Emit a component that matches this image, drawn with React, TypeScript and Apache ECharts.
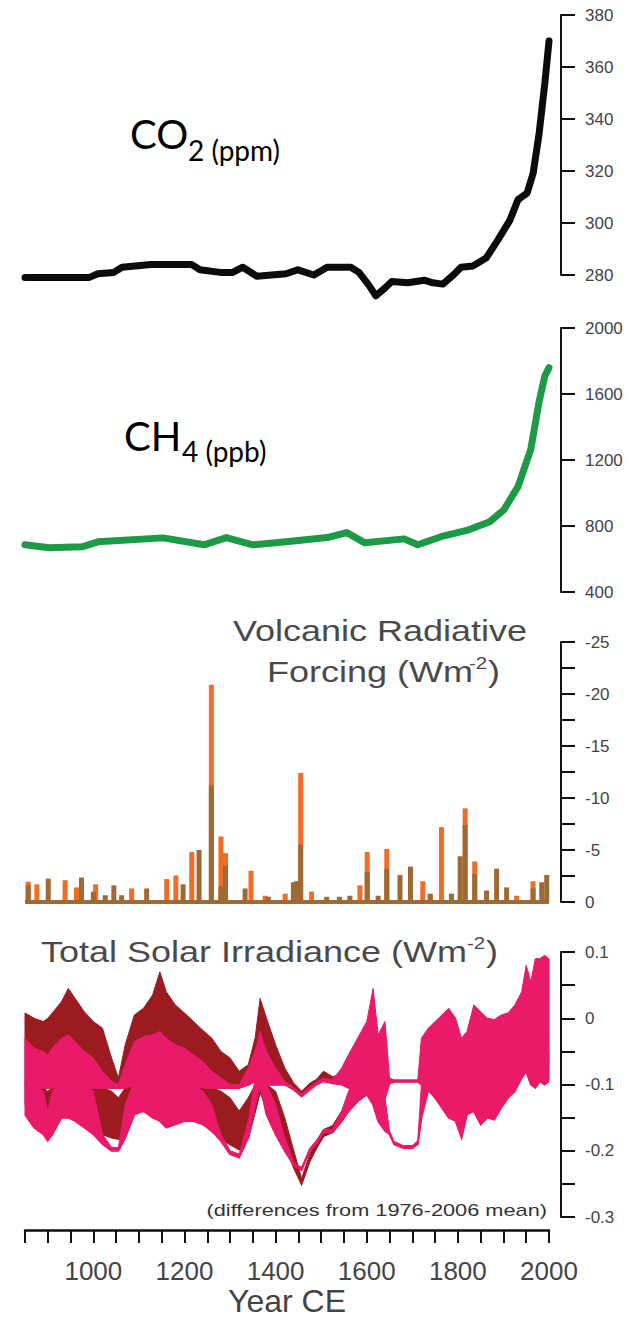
import React, { useEffect, useRef } from "react";
import * as echarts from "echarts";

// ---------- DATA ----------
const CO2_YEARS = [850, 990, 1010, 1045, 1063, 1126, 1216, 1234, 1278, 1306, 1328, 1359, 1423, 1449, 1484, 1513, 1565, 1583, 1605, 1620, 1640, 1655, 1690, 1726, 1745, 1767, 1790, 1807, 1833, 1862, 1888, 1914, 1932, 1952, 1965, 1978, 1991, 2000];
const CO2_PPM = [279, 279, 280.5, 281, 283, 284, 284, 282, 281, 281, 283, 279.5, 280.5, 282, 280, 283, 283, 281, 276, 272, 275, 277.5, 277, 278, 277, 276.5, 280, 283, 283.5, 286.5, 293.5, 301, 309, 311.5, 319, 334, 354, 370];

const CH4_YEARS = [850, 903, 975, 1010, 1153, 1243, 1292, 1350, 1423, 1513, 1556, 1596, 1682, 1712, 1763, 1824, 1870, 1901, 1932, 1960, 1978, 1991, 2000];
const CH4_PPB = [686, 668, 674, 704, 728, 686, 730, 686, 704, 730, 760, 698, 722, 686, 735, 777, 826, 898, 1039, 1264, 1550, 1710, 1760];

const VOLC_ORANGE_YEARS = [857, 876, 938, 963, 1005, 1084, 1161, 1181, 1216, 1259, 1280, 1290, 1346, 1377, 1421, 1455, 1479, 1585, 1601, 1644, 1723, 1740, 1764, 1816, 1837, 1929, 1965];
const VOLC_ORANGE_VALUES = [-1.95, -1.7, -2.1, -1.4, -1.7, -1.3, -2.2, -2.55, -4.8, -20.9, -6.3, -4.7, -3.0, -0.6, -0.8, -12.4, -1.0, -1.6, -4.8, -5.1, -2.0, -0.7, -7.2, -9.0, -3.9, -0.6, -2.0];
const VOLC_BROWN_YEARS = [857, 901, 974, 1000, 1026, 1045, 1062, 1117, 1197, 1232, 1259, 1280, 1290, 1333, 1384, 1439, 1446, 1455, 1512, 1540, 1563, 1601, 1625, 1644, 1673, 1696, 1739, 1786, 1805, 1816, 1837, 1863, 1885, 1907, 1965, 1984, 1995];
const VOLC_BROWN_VALUES = [-1.6, -2.25, -2.35, -1.0, -0.65, -1.6, -0.65, -1.3, -1.7, -5.0, -11.2, -1.5, -3.5, -1.3, -0.5, -1.9, -2.0, -5.5, -0.5, -0.5, -0.6, -2.9, -0.6, -3.2, -2.6, -3.4, -0.8, -0.8, -4.4, -7.4, -2.7, -1.1, -3.2, -1.4, -1.3, -1.9, -2.6];

// Solar irradiance: dark red reconstruction (two scalings A and B), lower/upper envelopes
const TSI_DR_YEARS = [850, 870, 890, 900, 910, 930, 945, 960, 980, 1000, 1020, 1040, 1055, 1070, 1090, 1110, 1130, 1146, 1160, 1180, 1200, 1220, 1240, 1260, 1280, 1300, 1320, 1340, 1355, 1366, 1380, 1400, 1420, 1440, 1457, 1475, 1490, 1505, 1525, 1545, 1560, 1580, 1600];
const TSI_DR_A_LOW = [-0.10, -0.105, -0.105, -0.105, -0.105, -0.10, -0.10, -0.10, -0.105, -0.105, -0.105, -0.105, -0.105, -0.105, -0.10, -0.10, -0.10, -0.10, -0.10, -0.10, -0.10, -0.10, -0.105, -0.105, -0.105, -0.105, -0.105, -0.10, -0.095, -0.09, -0.10, -0.10, -0.10, -0.105, -0.116, -0.105, -0.097, -0.09, -0.095, -0.098, -0.10, -0.105, -0.11];
const TSI_DR_A_HIGH = [0.008, 0.0, -0.005, 0.0, 0.008, 0.025, 0.045, 0.03, 0.01, -0.005, -0.015, -0.06, -0.09, -0.04, 0.005, 0.015, 0.035, 0.07, 0.04, 0.02, 0.008, -0.005, -0.018, -0.03, -0.05, -0.06, -0.08, -0.07, -0.03, 0.03, 0.0, -0.04, -0.075, -0.098, -0.11, -0.098, -0.092, -0.08, -0.088, -0.085, -0.07, -0.05, -0.02];
const TSI_DR_B_LOW = [-0.13, -0.14, -0.15, -0.145, -0.14, -0.13, -0.13, -0.14, -0.155, -0.165, -0.175, -0.18, -0.182, -0.17, -0.14, -0.13, -0.14, -0.145, -0.15, -0.15, -0.15, -0.152, -0.158, -0.17, -0.182, -0.19, -0.198, -0.18, -0.14, -0.11, -0.135, -0.16, -0.19, -0.225, -0.25, -0.215, -0.195, -0.178, -0.172, -0.155, -0.14, -0.125, -0.115];
const TSI_DR_B_HIGH = [-0.1, -0.1, -0.105, -0.11, -0.105, -0.1, -0.1, -0.1, -0.1, -0.105, -0.105, -0.11, -0.12, -0.105, -0.1, -0.1, -0.1, -0.1, -0.1, -0.1, -0.1, -0.105, -0.105, -0.105, -0.11, -0.12, -0.14, -0.12, -0.1, -0.085, -0.1, -0.11, -0.15, -0.2, -0.242, -0.205, -0.185, -0.168, -0.162, -0.14, -0.12, -0.1, -0.09];

// Pink reconstruction (two scalings A and B)
const TSI_P_YEARS = [850, 870, 890, 900, 910, 930, 945, 960, 980, 1000, 1020, 1040, 1055, 1070, 1090, 1110, 1130, 1146, 1160, 1180, 1200, 1220, 1240, 1260, 1280, 1300, 1320, 1340, 1355, 1366, 1380, 1400, 1420, 1440, 1457, 1475, 1490, 1505, 1525, 1545, 1560, 1580, 1600, 1614, 1625, 1640, 1650, 1660, 1680, 1700, 1712, 1720, 1735, 1750, 1765, 1780, 1795, 1808, 1820, 1835, 1850, 1865, 1880, 1895, 1910, 1925, 1940, 1950, 1960, 1970, 1980, 1990, 2000];
const TSI_P_A_LOW = [-0.10, -0.105, -0.105, -0.105, -0.105, -0.10, -0.10, -0.10, -0.105, -0.105, -0.105, -0.105, -0.105, -0.105, -0.10, -0.10, -0.10, -0.10, -0.10, -0.10, -0.10, -0.10, -0.105, -0.105, -0.105, -0.105, -0.105, -0.10, -0.095, -0.09, -0.10, -0.10, -0.10, -0.108, -0.118, -0.108, -0.10, -0.095, -0.098, -0.10, -0.105, -0.11, -0.11, -0.12, -0.14, -0.12, -0.098, -0.096, -0.096, -0.096, -0.096, -0.1, -0.1, -0.11, -0.12, -0.13, -0.14, -0.15, -0.13, -0.12, -0.13, -0.12, -0.12, -0.11, -0.1, -0.09, -0.08, -0.07, -0.08, -0.08, -0.07, -0.07, -0.07];
const TSI_P_A_HIGH = [-0.03, -0.045, -0.05, -0.055, -0.045, -0.03, -0.025, -0.035, -0.05, -0.06, -0.08, -0.095, -0.1, -0.07, -0.035, -0.028, -0.025, -0.02, -0.03, -0.04, -0.045, -0.055, -0.065, -0.08, -0.09, -0.1, -0.1, -0.075, -0.05, -0.02, -0.05, -0.075, -0.095, -0.105, -0.114, -0.104, -0.096, -0.09, -0.093, -0.075, -0.055, -0.03, -0.005, 0.045, -0.025, -0.005, -0.09, -0.093, -0.093, -0.093, -0.093, -0.03, -0.015, -0.005, 0.005, 0.015, 0.0, -0.03, -0.02, 0.02, 0.01, 0.0, -0.002, 0.005, 0.008, 0.02, 0.04, 0.08, 0.055, 0.09, 0.09, 0.095, 0.09];
const TSI_P_B_LOW = [-0.145, -0.165, -0.175, -0.185, -0.175, -0.15, -0.15, -0.155, -0.165, -0.175, -0.19, -0.2, -0.2, -0.18, -0.145, -0.14, -0.15, -0.155, -0.165, -0.16, -0.155, -0.155, -0.16, -0.17, -0.185, -0.205, -0.21, -0.18, -0.13, -0.1, -0.145, -0.175, -0.2, -0.222, -0.229, -0.2, -0.188, -0.172, -0.172, -0.155, -0.14, -0.125, -0.115, -0.13, -0.155, -0.17, -0.175, -0.19, -0.196, -0.196, -0.19, -0.15, -0.108, -0.12, -0.135, -0.15, -0.155, -0.18, -0.145, -0.14, -0.16, -0.15, -0.153, -0.135, -0.12, -0.11, -0.09, -0.08, -0.1, -0.105, -0.095, -0.1, -0.095];
const TSI_P_B_HIGH = [-0.095, -0.1, -0.11, -0.14, -0.11, -0.095, -0.095, -0.095, -0.1, -0.11, -0.175, -0.195, -0.195, -0.13, -0.095, -0.095, -0.095, -0.095, -0.095, -0.095, -0.1, -0.1, -0.11, -0.13, -0.175, -0.2, -0.205, -0.155, -0.09, -0.07, -0.1, -0.13, -0.18, -0.218, -0.225, -0.196, -0.184, -0.168, -0.168, -0.14, -0.11, -0.09, -0.08, -0.08, -0.1, -0.12, -0.17, -0.186, -0.192, -0.192, -0.185, -0.1, -0.08, -0.08, -0.09, -0.09, -0.1, -0.12, -0.1, -0.09, -0.1, -0.1, -0.1, -0.09, -0.08, -0.07, -0.06, -0.05, -0.06, -0.06, -0.05, -0.05, -0.05];

const YEAR_MIN = 850;
const YEAR_MAX = 2000;

// ---------- STYLE ----------
const FONT_AXIS = "'Liberation Sans', Arial, Helvetica, sans-serif";
const FONT_TITLE = "Lato, 'Open Sans', sans-serif";
const AXIS_COLOR = "#111";
const LABEL_COLOR = "#444";
const C_CO2 = "#0b0b0b";
const C_CH4 = "#1d9a46";
const C_ORANGE = "#f26c26";
const C_BROWN = "#9f6933";
const C_DARKRED = "#9b1b21";
const C_PINK = "#e91a68";

function rightAxis(gridIndex: number, extra: any) {
  return {
    type: "value",
    gridIndex,
    position: "right",
    offset: 12,
    axisLine: { show: true, onZero: false, lineStyle: { color: AXIS_COLOR, width: 2 } },
    axisTick: { show: true, inside: false, length: 14, lineStyle: { color: AXIS_COLOR, width: 2 } },
    axisLabel: { color: LABEL_COLOR, fontSize: 17, fontFamily: FONT_AXIS, margin: 24, formatter: (v: number) => String(v) },
    splitLine: { show: false },
    ...extra,
  };
}

function hiddenX(gridIndex: number) {
  return { type: "value", gridIndex, min: YEAR_MIN, max: YEAR_MAX, show: false, splitLine: { show: false } };
}

// band between a lower and an upper envelope, drawn through the axes' scales
function band(years: number[], low: number[], high: number[], color: string) {
  return {
    type: "custom",
    xAxisIndex: 3,
    yAxisIndex: 3,
    silent: true,
    data: [[years[0], low[0]]],
    renderItem: (_params: any, api: any) => {
      const top = years.map((y, i) => api.coord([y, high[i]]));
      const bottom = years.map((y, i) => api.coord([y, low[i]]));
      return {
        type: "group",
        children: [
          {
            type: "polygon",
            shape: { points: top.concat(bottom.slice().reverse()) },
            style: { fill: color, stroke: color, lineWidth: 1 },
          },
          {
            type: "polyline",
            shape: { points: bottom },
            style: { fill: "none", stroke: color, lineWidth: 2 },
          },
        ],
      };
    },
  };
}

function supText(x: number, y: number, text: string, fontSize: number, fill: string, align = "left") {
  return {
    type: "text",
    x,
    y,
    scaleX: 1.2,
    silent: true,
    style: { text, fontSize, fontFamily: FONT_AXIS, fill, textAlign: align, textVerticalAlign: "middle" },
  };
}

export default function App() {
  const ref = useRef<HTMLDivElement>(null);

  useEffect(() => {
    if (!ref.current) return;
    const chart = echarts.init(ref.current, null, { renderer: "svg" });

    const grids = [
      { left: 25, right: 90, top: 15, height: 260, outerBoundsMode: "none" },
      { left: 25, right: 90, top: 328, height: 264, outerBoundsMode: "none" },
      { left: 25, right: 90, top: 642, height: 260, outerBoundsMode: "none" },
      { left: 25, right: 90, top: 952, height: 265, outerBoundsMode: "none" },
    ];

    const option: any = {
      animation: false,
      backgroundColor: "#fff",
      grid: grids,
      xAxis: [
        hiddenX(0),
        hiddenX(1),
        hiddenX(2),
        {
          type: "value",
          gridIndex: 3,
          min: YEAR_MIN,
          max: YEAR_MAX,
          interval: 50,
          position: "bottom",
          offset: 13,
          axisLine: { show: true, onZero: false, lineStyle: { color: AXIS_COLOR, width: 2.5 } },
          axisTick: { show: true, inside: false, length: 13, lineStyle: { color: AXIS_COLOR, width: 2 } },
          axisLabel: {
            color: LABEL_COLOR,
            fontSize: 26,
            fontFamily: FONT_AXIS,
            margin: 28,
            formatter: (v: number) => (v % 200 === 0 ? String(v) : ""),
          },
          splitLine: { show: false },
          name: "Year CE",
          nameLocation: "middle",
          nameGap: 55,
          nameTextStyle: { color: LABEL_COLOR, fontSize: 32, fontFamily: FONT_AXIS },
        },
      ],
      yAxis: [
        rightAxis(0, { min: 280, max: 380, interval: 20 }),
        rightAxis(1, { min: 400, max: 2000, interval: 400 }),
        rightAxis(2, {
          min: -25,
          max: 0,
          interval: 2.5,
          inverse: true,
          axisLabel: {
            color: LABEL_COLOR,
            fontSize: 17,
            fontFamily: FONT_AXIS,
            margin: 24,
            formatter: (v: number) => (Math.abs(v % 5) < 1e-9 ? String(v === 0 ? 0 : v) : ""),
          },
        }),
        rightAxis(3, {
          min: -0.3,
          max: 0.1,
          interval: 0.05,
          axisLabel: {
            color: LABEL_COLOR,
            fontSize: 17,
            fontFamily: FONT_AXIS,
            margin: 24,
            formatter: (v: number) => {
              const t = Math.round(v * 100);
              if (t % 10 !== 0) return "";
              if (t === 0) return "0";
              return (t / 100).toFixed(1);
            },
          },
        }),
      ],
      series: [
        {
          type: "line",
          xAxisIndex: 0,
          yAxisIndex: 0,
          data: CO2_YEARS.map((y, i) => [y, CO2_PPM[i]]),
          symbol: "none",
          clip: false,
          lineStyle: { color: C_CO2, width: 7, join: "round", cap: "round" },
        },
        {
          type: "line",
          xAxisIndex: 1,
          yAxisIndex: 1,
          data: CH4_YEARS.map((y, i) => [y, CH4_PPB[i]]),
          symbol: "none",
          clip: false,
          lineStyle: { color: C_CH4, width: 7, join: "round", cap: "round" },
        },
        {
          type: "bar",
          xAxisIndex: 2,
          yAxisIndex: 2,
          data: VOLC_ORANGE_YEARS.map((y, i) => [y, VOLC_ORANGE_VALUES[i]]),
          barWidth: 5,
          barGap: "-100%",
          itemStyle: { color: C_ORANGE },
          silent: true,
        },
        {
          type: "bar",
          xAxisIndex: 2,
          yAxisIndex: 2,
          data: VOLC_BROWN_YEARS.map((y, i) => [y, VOLC_BROWN_VALUES[i]]),
          barWidth: 5,
          barGap: "-100%",
          itemStyle: { color: C_BROWN },
          silent: true,
          markLine: {
            silent: true,
            symbol: "none",
            label: { show: false },
            lineStyle: { color: C_BROWN, width: 4, type: "solid" },
            data: [{ yAxis: 0 }],
          },
        },
        band(TSI_DR_YEARS, TSI_DR_A_LOW, TSI_DR_A_HIGH, C_DARKRED),
        band(TSI_DR_YEARS, TSI_DR_B_LOW, TSI_DR_B_HIGH, C_DARKRED),
        band(TSI_P_YEARS, TSI_P_B_LOW, TSI_P_B_HIGH, C_PINK),
        band(TSI_P_YEARS, TSI_P_A_LOW, TSI_P_A_HIGH, C_PINK),
      ],
      graphic: [
        { type: "text", x: 130, y: 134, silent: true, style: { text: "CO", fontSize: 40, fontFamily: FONT_TITLE, fill: "#000", textVerticalAlign: "middle" } },
        { type: "text", x: 188, y: 150, silent: true, style: { text: "2 (ppm)", fontSize: 28, fontFamily: FONT_TITLE, fill: "#000", textVerticalAlign: "middle" } },
        { type: "text", x: 124, y: 436, silent: true, style: { text: "CH", fontSize: 40, fontFamily: FONT_TITLE, fill: "#000", textVerticalAlign: "middle" } },
        { type: "text", x: 182, y: 451, silent: true, style: { text: "4 (ppb)", fontSize: 28, fontFamily: FONT_TITLE, fill: "#000", textVerticalAlign: "middle" } },
        supText(233, 631, "Volcanic Radiative", 30, "#4a4a4a"),
        supText(267, 672, "Forcing (Wm", 30, "#4a4a4a"),
        supText(469, 663, "-2", 17, "#4a4a4a"),
        supText(488, 672, ")", 30, "#4a4a4a"),
        supText(41, 952, "Total Solar Irradiance (Wm", 30, "#4a4a4a"),
        supText(467, 943, "-2", 17, "#4a4a4a"),
        supText(486, 952, ")", 30, "#4a4a4a"),
        {
          type: "text",
          x: 547,
          y: 1210,
          scaleX: 1.28,
          silent: true,
          style: { text: "(differences from 1976-2006 mean)", fontSize: 17, fontFamily: FONT_AXIS, fill: "#333", textAlign: "right", textVerticalAlign: "middle" },
        },
      ],
    };

    chart.setOption(option);
    return () => chart.dispose();
  }, []);

  return <div ref={ref} style={{ position: "absolute", left: 0, top: 0, width: 639, height: 1322 }} />;
}
